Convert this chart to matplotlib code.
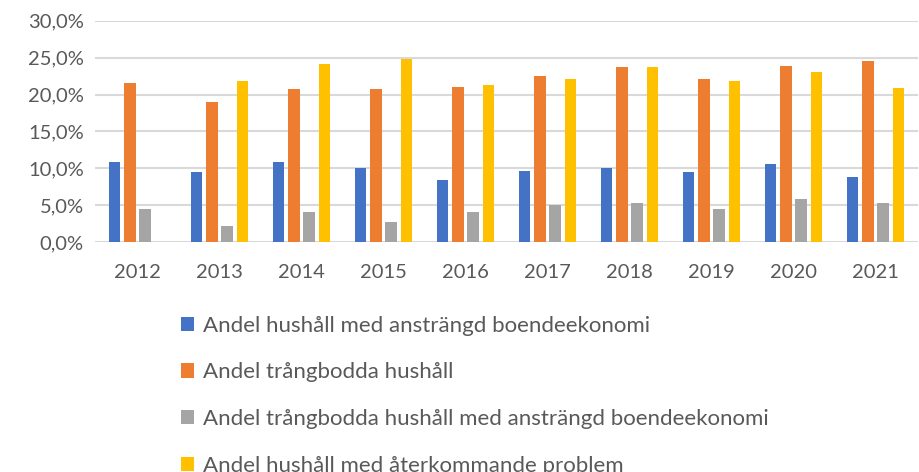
import matplotlib
matplotlib.use("Agg")
import matplotlib.pyplot as plt
import numpy as np
from matplotlib.ticker import FuncFormatter

years = ['2012', '2013', '2014', '2015', '2016', '2017', '2018', '2019', '2020', '2021']
ansträngd = [10.9, 9.5, 10.9, 10.0, 8.4, 9.7, 10.0, 9.5, 10.6, 8.8]
trångbodda = [21.5, 19.0, 20.7, 20.7, 21.0, 22.5, 23.7, 22.1, 23.9, 24.6]
trångbodda_ansträngd = [4.5, 2.2, 4.1, 2.7, 4.1, 5.1, 5.3, 4.5, 5.8, 5.3]
återkommande = [0, 21.8, 24.2, 24.8, 21.3, 22.1, 23.7, 21.8, 23.0, 20.9]

labels = ['Andel hushåll med ansträngd boendeekonomi',
          'Andel trångbodda hushåll',
          'Andel trångbodda hushåll med ansträngd boendeekonomi',
          'Andel hushåll med återkommande problem']
colors = ['#4472C4', '#ED7D31', '#A5A5A5', '#FFC000']
series = [ansträngd, trångbodda, trångbodda_ansträngd, återkommande]

plt.rcParams['font.family'] = ['Lato', 'DejaVu Sans']

fig = plt.figure(figsize=(9.2, 4.72), dpi=100)
ax = fig.add_axes([0.103, 0.487, 0.895, 0.469])

x = np.arange(len(years))
step = 0.186
width = 0.14
for i, (vals, lab, col) in enumerate(zip(series, labels, colors)):
    ax.bar(x + (i - 1.5) * step, vals, width, color=col, label=lab, zorder=3)

ax.set_ylim(0, 30)
ax.set_yticks(np.arange(0, 31, 5))
ax.yaxis.set_major_formatter(FuncFormatter(lambda v, p: f"{v:.1f}%".replace('.', ',')))
ax.set_xticks(x, years)
ax.set_xlim(-0.52, 9.52)
ax.grid(axis='y', color='#d9d9d9', linewidth=1.5, zorder=0)
for s in ax.spines.values():
    s.set_visible(False)
ax.tick_params(length=0, labelsize=14.5, colors='#595959', pad=8)
ax.tick_params(axis='x', pad=16)

fig.legend(loc='upper left', bbox_to_anchor=(0.187, 0.35), frameon=False,
           fontsize=16, labelcolor='#595959', handlelength=0.6, handleheight=0.6,
           handletextpad=0.4, labelspacing=1.2, borderaxespad=0)

fig.savefig('out.png', dpi=100)
